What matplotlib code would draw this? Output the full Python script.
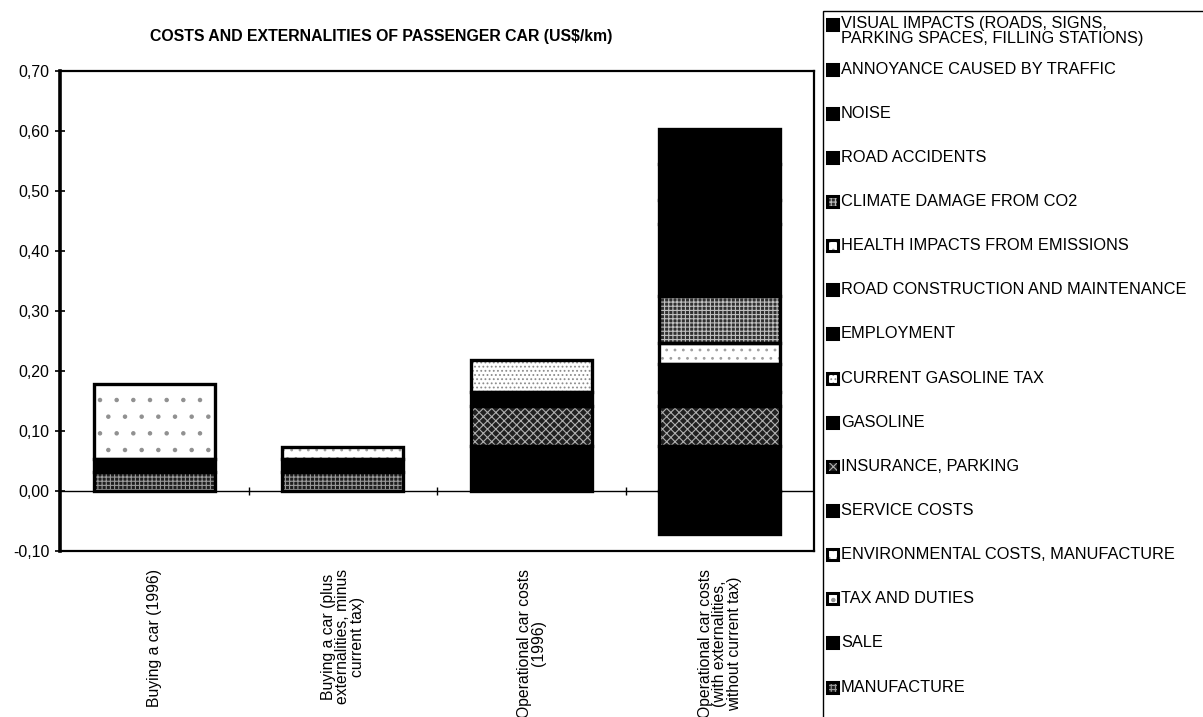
import matplotlib
matplotlib.use('Agg')
import matplotlib.pyplot as plt
import numpy as np
from matplotlib.patches import Rectangle
from matplotlib.ticker import FuncFormatter

plt.rcParams['font.family'] = ['Liberation Sans', 'DejaVu Sans']
plt.rcParams['hatch.linewidth'] = 0.8

# categories (x axis)
categories = ['Buying a car (1996)',
              'Buying a car (plus\nexternalities, minus\ncurrent tax)',
              'Operational car costs\n(1996)',
              'Operational car costs\n(with externalities,\nwithout current tax)']

# series, bottom to top, values in US$/km per category
series_names = ['MANUFACTURE', 'SALE', 'TAX AND DUTIES',
                'ENVIRONMENTAL COSTS, MANUFACTURE', 'SERVICE COSTS',
                'INSURANCE, PARKING', 'GASOLINE', 'CURRENT GASOLINE TAX',
                'EMPLOYMENT', 'ROAD CONSTRUCTION AND MAINTENANCE',
                'HEALTH IMPACTS FROM EMISSIONS', 'CLIMATE DAMAGE FROM CO2',
                'ROAD ACCIDENTS', 'NOISE', 'ANNOYANCE CAUSED BY TRAFFIC',
                'VISUAL IMPACTS (ROADS, SIGNS,\nPARKING SPACES, FILLING STATIONS)']
manufacture = [0.032, 0.032, 0, 0]
sale = [0.021, 0.021, 0, 0]
tax_duties = [0.125, 0, 0, 0]
env_manufacture = [0, 0.020, 0, 0]
service = [0, 0, 0.075, 0.075]
insurance = [0, 0, 0.066, 0.066]
gasoline = [0, 0, 0.024, 0.024]
gasoline_tax = [0, 0, 0.053, 0]
employment = [0, 0, 0, -0.072]
road_construction = [0, 0, 0, 0.047]
health = [0, 0, 0, 0.035]
climate = [0, 0, 0, 0.078]
accidents = [0, 0, 0, 0.120]
noise = [0, 0, 0, 0.040]
annoyance = [0, 0, 0, 0.060]
visual = [0, 0, 0, 0.058]
values = [manufacture, sale, tax_duties, env_manufacture, service, insurance,
          gasoline, gasoline_tax, employment, road_construction, health,
          climate, accidents, noise, annoyance, visual]

# (face, hatch, hatch colour) per series -- imitates the scanned b/w patterns
styles = [('#1e1e1e', '++++', '#9a9a9a'),
          ('black', None, 'black'),
          ('white', '.', '#909090'),
          ('white', '..', '#a0a0a0'),
          ('black', None, 'black'),
          ('#202020', 'xxxx', '#b0b0b0'),
          ('black', None, 'black'),
          ('white', '....', '#8c8c8c'),
          ('black', None, 'black'),
          ('black', None, 'black'),
          ('white', '..', '#a0a0a0'),
          ('#303030', '++++', '#c0c0c0'),
          ('black', None, 'black'),
          ('black', None, 'black'),
          ('black', None, 'black'),
          ('black', None, 'black')]

W, H = 1203, 717
fig = plt.figure(figsize=(W / 100, H / 100), dpi=100)
ax = fig.add_axes([60 / W, 1 - 551 / H, 754 / W, 480 / H])

x = np.arange(len(categories))
width = 0.64
pos_bottom = np.zeros(len(categories))
neg_bottom = np.zeros(len(categories))
for vals, (face, hatch, hcol) in zip(values, styles):
    vals = np.array(vals)
    bottom = np.where(vals >= 0, pos_bottom, neg_bottom)
    m = vals != 0
    ax.bar(x[m], vals[m], width, bottom=bottom[m], color=face, hatch=hatch,
           edgecolor=hcol, linewidth=0, zorder=2)
    ax.bar(x[m], vals[m], width, bottom=bottom[m], fill=False,
           edgecolor='black', linewidth=2.4, zorder=3)
    pos_bottom += np.where(vals > 0, vals, 0)
    neg_bottom += np.where(vals < 0, vals, 0)

ax.axhline(0, color='black', linewidth=1.0, zorder=1)
# small marks between categories on the zero line
ax.vlines(x[:-1] + 0.5, -0.006, 0.006, color='black', linewidth=1.0)

ax.set_xlim(-0.5, len(categories) - 0.5)
ax.set_ylim(-0.1, 0.7)
ax.set_yticks(np.arange(-0.1, 0.71, 0.1))
ax.yaxis.set_major_formatter(FuncFormatter(lambda v, p: f'{v:.2f}'.replace('.', ',')))
ax.tick_params(axis='y', direction='inout', length=7, width=1.2, labelsize=11.5, pad=4)
ax.set_xticks(x)
ax.set_xticklabels(categories, rotation=90, va='top', ha='center',
                   multialignment='center', fontsize=11.3, linespacing=0.95)
ax.tick_params(axis='x', length=0, pad=13)
for s in ['top', 'right', 'bottom']:
    ax.spines[s].set_linewidth(1.6)
ax.spines['left'].set_linewidth(2.6)

fig.text(381 / W, 1 - 36 / H, 'COSTS AND EXTERNALITIES OF PASSENGER CAR (US$/km)',
         ha='center', va='center', fontsize=11.4, fontweight='bold')

# legend: open box at the right, entries listed top-down (last series first)
fig.patches.append(Rectangle((823 / W, -0.05), 0.5, 1 - 11 / H + 0.05,
                             transform=fig.transFigure, fill=False,
                             edgecolor='black', linewidth=1.0))
row_y = [31] + [69 + 44.15 * k for k in range(len(series_names) - 1)]
for name, style, yc in zip(series_names[::-1], styles[::-1], row_y):
    face, hatch, hcol = style
    two_lines = '\n' in name
    ym = yc - 7 if two_lines else yc
    sq = 11
    fig.patches.append(Rectangle((827 / W, 1 - (ym + sq / 2) / H), sq / W, sq / H,
                                 transform=fig.transFigure, facecolor=face,
                                 hatch=hatch, edgecolor=hcol, linewidth=0))
    fig.patches.append(Rectangle((827 / W, 1 - (ym + sq / 2) / H), sq / W, sq / H,
                                 transform=fig.transFigure, fill=False,
                                 edgecolor='black', linewidth=2.2))
    fig.text(841 / W, 1 - yc / H, name, ha='left', va='center', fontsize=11.8,
             linespacing=0.95)

fig.savefig('out.png', dpi=100)
